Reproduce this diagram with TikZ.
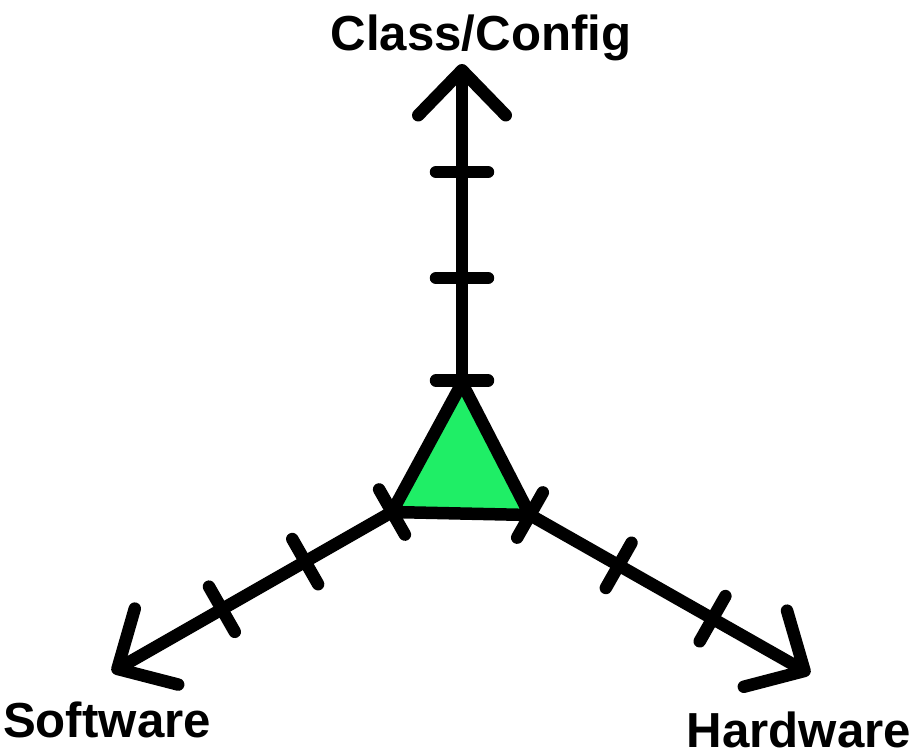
\documentclass[tikz,border=0pt]{standalone}
\usepackage{fontspec}
\setmainfont{Liberation Sans}
\usetikzlibrary{calc,arrows.meta}
\definecolor{triVerde}{HTML}{1FEE66}

\begin{document}
\begin{tikzpicture}[x=0.02cm,y=-0.02cm,
    axis/.style={line width=0.25cm, line cap=round,
                 -{Straight Barb[length=0.9cm,width=1.75cm,round]}},
    tick/.style={line width=0.25cm, line cap=round},
    lab/.style={font=\fontsize{28}{32}\selectfont\bfseries, anchor=base, inner sep=0pt}]
  \useasboundingbox (0,0) rectangle (920,752);
  \coordinate (T)  at (462,383);
  \coordinate (L)  at (392,512);
  \coordinate (R)  at (530,515);
  \coordinate (up) at (462,64);
  \coordinate (sw) at (112,672);
  \coordinate (se) at (810,674);
  % axes
  \draw[axis] (T) -- (up);
  \draw[axis] (L) -- (sw);
  \draw[axis] (R) -- (se);
  % triangle
  \filldraw[fill=triVerde, line width=0.25cm, line join=round] (T) -- (L) -- (R) -- cycle;
  % ticks
  \foreach \a/\b/\d in {T/up/0.05cm, T/up/2.1cm, T/up/4.22cm,
                        L/sw/0cm, L/sw/2.0cm, L/sw/3.92cm,
                        R/se/0cm, R/se/2.04cm, R/se/4.2cm} {
    \coordinate (m) at ($(\a)!\d!(\b)$);
    \draw[tick] ($(m)!0.52cm!90:(\b)$) -- ($(m)!0.52cm!-90:(\b)$);
  }
  % labels
  \node[lab] (cc)  at (481,50)  {Class/Config};
  \node[lab] (sft) at (107,737) {Software};
  \node[lab] (hw)  at (799,747) {Hardware};
\end{tikzpicture}
\end{document}
